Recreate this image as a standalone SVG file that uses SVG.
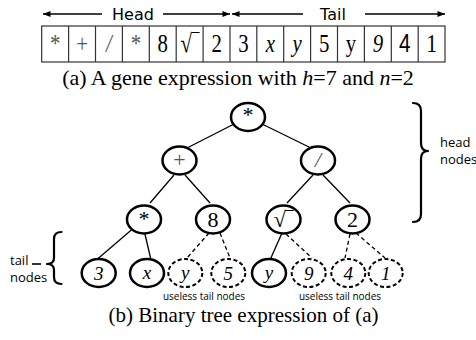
<svg xmlns="http://www.w3.org/2000/svg" width="476" height="340" viewBox="0 0 476 340">
  <defs>
    <marker id="arr" viewBox="0 0 10 8" refX="10" refY="4" markerWidth="8" markerHeight="6" orient="auto-start-reverse" markerUnits="userSpaceOnUse">
      <path d="M0,0 L10,4 L0,8 Z" fill="#000"/>
    </marker>
    <style>
      .cell { fill: #fff; stroke: #333; stroke-width: 1.2; }
      .ct { font-family: "Liberation Serif", "Times New Roman", serif; font-size: 26px; text-anchor: middle; fill: #000; }
      .it { font-style: italic; }
      .op { fill: #555; }
      .sans { font-family: "Liberation Sans", Arial, sans-serif; }
      .hdr { font-family: "DejaVu Sans", Verdana, sans-serif; font-size: 16px; text-anchor: middle; }
      .cap { font-family: "Liberation Serif", "Times New Roman", serif; text-anchor: middle; fill: #000; }
      .node ellipse { fill: #fff; stroke: #000; stroke-width: 2.5; }
      .node.dash ellipse { stroke-width: 2; stroke-dasharray: 4 2.5; }
      .nl { font-family: "Liberation Serif", "Times New Roman", serif; font-size: 22px; text-anchor: middle; }
      .leaf { font-size: 19px; font-style: italic; }
      .edge { stroke: #000; stroke-width: 1.3; fill: none; }
      .edge.dash { stroke-dasharray: 4 3; }
      .note { font-family: "Open Sans", "Noto Sans", sans-serif; font-size: 13px; fill: #000; }
      .small { font-size: 10px; text-anchor: middle; }
      .brace { stroke: #000; stroke-width: 2.2; fill: none; stroke-linecap: round; stroke-linejoin: round; }
    </style>
  </defs>

  <!-- Head / Tail span arrows -->
  <g id="spans">
    <line x1="102" y1="14" x2="43" y2="14" stroke="#000" stroke-width="1.5" marker-end="url(#arr)"/>
    <text class="hdr" x="133" y="20">Head</text>
    <line x1="163" y1="14" x2="230" y2="14" stroke="#000" stroke-width="1.5" marker-end="url(#arr)"/>
    <line x1="303" y1="14" x2="232" y2="14" stroke="#000" stroke-width="1.5" marker-end="url(#arr)"/>
    <text class="hdr" x="333" y="20">Tail</text>
    <line x1="365" y1="14" x2="445" y2="14" stroke="#000" stroke-width="1.5" marker-end="url(#arr)"/>
  </g>

  <!-- Gene string cells -->
  <g id="gene">
    <rect class="cell" x="41.7" y="26" width="403.3" height="36"/>
    <g stroke="#333" stroke-width="1.2">
      <line x1="68.6" y1="26" x2="68.6" y2="62"/>
      <line x1="95.5" y1="26" x2="95.5" y2="62"/>
      <line x1="122.4" y1="26" x2="122.4" y2="62"/>
      <line x1="149.3" y1="26" x2="149.3" y2="62"/>
      <line x1="176.2" y1="26" x2="176.2" y2="62"/>
      <line x1="203.1" y1="26" x2="203.1" y2="62"/>
      <line x1="230.0" y1="26" x2="230.0" y2="62"/>
      <line x1="256.8" y1="26" x2="256.8" y2="62"/>
      <line x1="283.7" y1="26" x2="283.7" y2="62"/>
      <line x1="310.6" y1="26" x2="310.6" y2="62"/>
      <line x1="337.5" y1="26" x2="337.5" y2="62"/>
      <line x1="364.4" y1="26" x2="364.4" y2="62"/>
      <line x1="391.3" y1="26" x2="391.3" y2="62"/>
      <line x1="418.2" y1="26" x2="418.2" y2="62"/>
    </g>
    <!-- cell glyphs: narrow, tall serif -->
    <text class="ct op" transform="translate(55.2,52) scale(0.8,1)" font-size="20">*</text>
    <text class="ct op" transform="translate(82.1,52) scale(0.8,1)" font-size="22">+</text>
    <text class="ct op it" transform="translate(109,52) scale(0.8,1)" font-size="20">/</text>
    <text class="ct op" transform="translate(135.9,52) scale(0.8,1)" font-size="20">*</text>
    <text class="ct" transform="translate(162.8,52) scale(0.8,1)">8</text>
    <text class="ct" transform="translate(189.7,52) scale(0.8,1)" font-size="24">√‾</text>
    <text class="ct" transform="translate(216.6,52) scale(0.8,1)">2</text>
    <text class="ct" transform="translate(243.4,52) scale(0.8,1)">3</text>
    <text class="ct it" transform="translate(270.3,52) scale(0.8,1)" font-size="22">x</text>
    <text class="ct it" transform="translate(297.2,52) scale(0.8,1)" font-size="22">y</text>
    <text class="ct" transform="translate(324.1,52) scale(0.8,1)">5</text>
    <text class="ct" transform="translate(351,52) scale(0.8,1)" font-size="22">y</text>
    <text class="ct it" transform="translate(377.9,52) scale(0.8,1)">9</text>
    <text class="ct sans" transform="translate(404.8,52) scale(0.8,1)" font-size="22">4</text>
    <text class="ct" transform="translate(431.6,52) scale(0.8,1)">1</text>
  </g>

  <text class="cap" x="238" y="85" font-size="22">(a) A gene expression with <tspan font-style="italic">h</tspan>=7 and <tspan font-style="italic">n</tspan>=2</text>

  <!-- Tree connectors -->
  <g id="connectors">
    <line class="edge" x1="238" y1="122" x2="187" y2="148"/>
    <line class="edge" x1="258" y1="122" x2="313" y2="149"/>
    <line class="edge" x1="174" y1="175" x2="150" y2="203"/>
    <line class="edge" x1="185" y1="175" x2="210" y2="203"/>
    <line class="edge" x1="313" y1="175" x2="287" y2="203"/>
    <line class="edge" x1="323" y1="175" x2="350" y2="203"/>
    <line class="edge" x1="136" y1="226" x2="94" y2="262"/>
    <line class="edge" x1="144" y1="230" x2="151" y2="260"/>
    <line class="edge dash" x1="209" y1="233" x2="187" y2="258"/>
    <line class="edge dash" x1="220" y1="233" x2="230" y2="258"/>
    <line class="edge" x1="282" y1="233" x2="270" y2="260"/>
    <line class="edge dash" x1="286" y1="234" x2="312" y2="258"/>
    <line class="edge dash" x1="350" y1="234" x2="345" y2="258"/>
    <line class="edge dash" x1="356" y1="233" x2="385" y2="258"/>
  </g>

  <!-- Head nodes -->
  <g id="n-root" class="node"><ellipse cx="248" cy="117" rx="17" ry="14"/><text class="nl" x="248" y="122" font-size="18">*</text></g>
  <g id="n-plus" class="node"><ellipse cx="179.5" cy="160.5" rx="17" ry="14"/><text class="nl op" x="179.5" y="167" font-size="20">+</text></g>
  <g id="n-div" class="node"><ellipse cx="318" cy="160.5" rx="17" ry="14"/><text class="nl op it" x="318" y="167" font-size="18">/</text></g>
  <g id="n-mul" class="node"><ellipse cx="144" cy="219.5" rx="17" ry="14"/><text class="nl" x="144" y="225.5" font-size="18">*</text></g>
  <g id="n-8" class="node"><ellipse cx="213" cy="219.5" rx="17" ry="14"/><text class="nl" x="213" y="227">8</text></g>
  <g id="n-sqrt" class="node"><ellipse cx="283.5" cy="219.5" rx="17" ry="14"/><text class="nl" x="283.5" y="227" font-size="20">√‾</text></g>
  <g id="n-2" class="node"><ellipse cx="352.5" cy="219.5" rx="17" ry="14"/><text class="nl" x="352.5" y="227">2</text></g>

  <!-- Tail nodes -->
  <g id="t-3" class="node"><ellipse cx="98.7" cy="273" rx="17" ry="14"/><text class="nl leaf" x="98.7" y="280">3</text></g>
  <g id="t-x" class="node"><ellipse cx="147" cy="273" rx="17" ry="14"/><text class="nl leaf" x="147" y="279">x</text></g>
  <g id="t-y1" class="node dash"><ellipse cx="185.3" cy="273" rx="17" ry="14"/><text class="nl leaf" x="185.3" y="279">y</text></g>
  <g id="t-5" class="node dash"><ellipse cx="228.3" cy="273" rx="17" ry="14"/><text class="nl leaf" x="228.3" y="280">5</text></g>
  <g id="t-y2" class="node"><ellipse cx="269" cy="273" rx="17" ry="14"/><text class="nl leaf" x="269" y="279">y</text></g>
  <g id="t-9" class="node dash"><ellipse cx="308.7" cy="273" rx="17" ry="14"/><text class="nl leaf" x="308.7" y="280">9</text></g>
  <g id="t-4" class="node dash"><ellipse cx="348.3" cy="273" rx="17" ry="14"/><text class="nl leaf" x="348.3" y="280">4</text></g>
  <g id="t-1" class="node dash"><ellipse cx="385.7" cy="273" rx="17" ry="14"/><text class="nl leaf" x="385.7" y="280">1</text></g>

  <!-- Annotations -->
  <g id="head-brace">
    <path class="brace" d="M413,103 Q421,103 421,111 L421,143 Q421,151 428,151 Q421,151 421,159 L421,214 Q421,222 413,222"/>
    <text class="note" x="440" y="147">head</text>
    <text class="note" x="440" y="164">nodes</text>
  </g>
  <g id="tail-brace">
    <path class="brace" d="M61.5,232 Q54,232 54,239 L54,258 Q54,264 47,264 Q54,264 54,270 L54,277 Q54,284 61.5,284"/>
    <line x1="32" y1="264" x2="41" y2="264" stroke="#000" stroke-width="1.6"/>
    <text class="note" x="10" y="265">tail</text>
    <text class="note" x="10" y="282">nodes</text>
  </g>
  <text class="note small" x="204" y="300">useless tail nodes</text>
  <text class="note small" x="340" y="300">useless tail nodes</text>

  <text class="cap" x="243.5" y="322" font-size="21">(b) Binary tree expression of (a)</text>
</svg>
